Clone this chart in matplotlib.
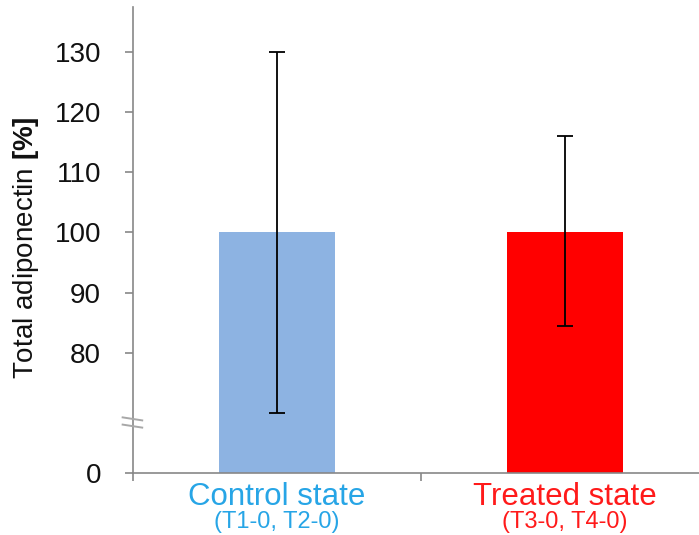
import matplotlib
matplotlib.use("Agg")
import matplotlib.pyplot as plt
import matplotlib.transforms as mtransforms
import numpy as np

plt.rcParams['font.family'] = ['Liberation Sans', 'DejaVu Sans']
plt.rcParams['mathtext.fontset'] = 'custom'
plt.rcParams['mathtext.rm'] = 'Liberation Sans'
plt.rcParams['mathtext.bf'] = 'Liberation Sans:bold'

# data
groups = ["Control state", "Treated state"]
subgroups = ["(T1-0, T2-0)", "(T3-0, T4-0)"]
means = [100, 100]
err_low = [30, 15.5]
err_high = [30, 16]
bar_colors = ["#8DB3E2", "#FF0000"]
text_colors = ["#27A5E6", "#FF1A1A"]
yticks = [0, 80, 90, 100, 110, 120, 130]

# broken axis: values under 65 are squeezed into a short stub
def fwd(v):
    v = np.asarray(v, dtype=float)
    return np.where(v < 65, 60 + v / 13.0, v)

def inv(y):
    y = np.asarray(y, dtype=float)
    return np.where(y < 65, (y - 60) * 13.0, y)

fig = plt.figure(figsize=(6.99, 5.35), dpi=100)
ax = fig.add_axes([133 / 699, 62 / 535, 576 / 699, 466 / 535])
ax.set_yscale('function', functions=(fwd, inv))

x = np.arange(len(groups))
ax.bar(x, means, width=0.4, color=bar_colors, zorder=2)
ax.errorbar(x, means, yerr=[err_low, err_high], fmt='none', ecolor='black',
            elinewidth=1.3, capsize=6, capthick=1.3, zorder=3)

ax.set_xlim(-0.5, 1.5)
ax.set_ylim(0, 137.5)
ax.set_yticks(yticks)
ax.set_yticklabels([str(t) for t in yticks])
ax.set_xticks([-0.5, 0.5, 1.5])
ax.set_xticklabels([])

spine_c = "#878787"
for s in ['top', 'right']:
    ax.spines[s].set_visible(False)
for s in ['left', 'bottom']:
    ax.spines[s].set_color(spine_c)
    ax.spines[s].set_linewidth(1.2)
ax.tick_params(axis='both', colors=spine_c, width=1.2, length=6, direction='out')
ax.tick_params(axis='y', labelcolor='#111111', labelsize=20, pad=17)

# break marks on the y axis
tr = mtransforms.blended_transform_factory(ax.transAxes, ax.transData)
for yb in [69.0, 67.8]:
    ax.plot([-0.018, 0.016], [yb + 0.25, yb - 0.25], transform=tr,
            color="#a8a8a8", lw=1.4, clip_on=False, zorder=5)

# category labels
for i in range(len(groups)):
    ax.annotate(groups[i], xy=(x[i], 0), xycoords=('data', 'axes fraction'),
                xytext=(0, -23), textcoords='offset points', ha='center',
                va='baseline', fontsize=22.5, color=text_colors[i])
    ax.annotate(subgroups[i], xy=(x[i], 0), xycoords=('data', 'axes fraction'),
                xytext=(0, -39.5), textcoords='offset points', ha='center',
                va='baseline', fontsize=17, color=text_colors[i])

fig.text(26 / 699, 1 - 248 / 535, r"Total adiponectin $\mathbf{[\%]}$",
         rotation=90, ha='center', va='center', fontsize=20, color='#111111')

fig.savefig("out.png", dpi=100)
